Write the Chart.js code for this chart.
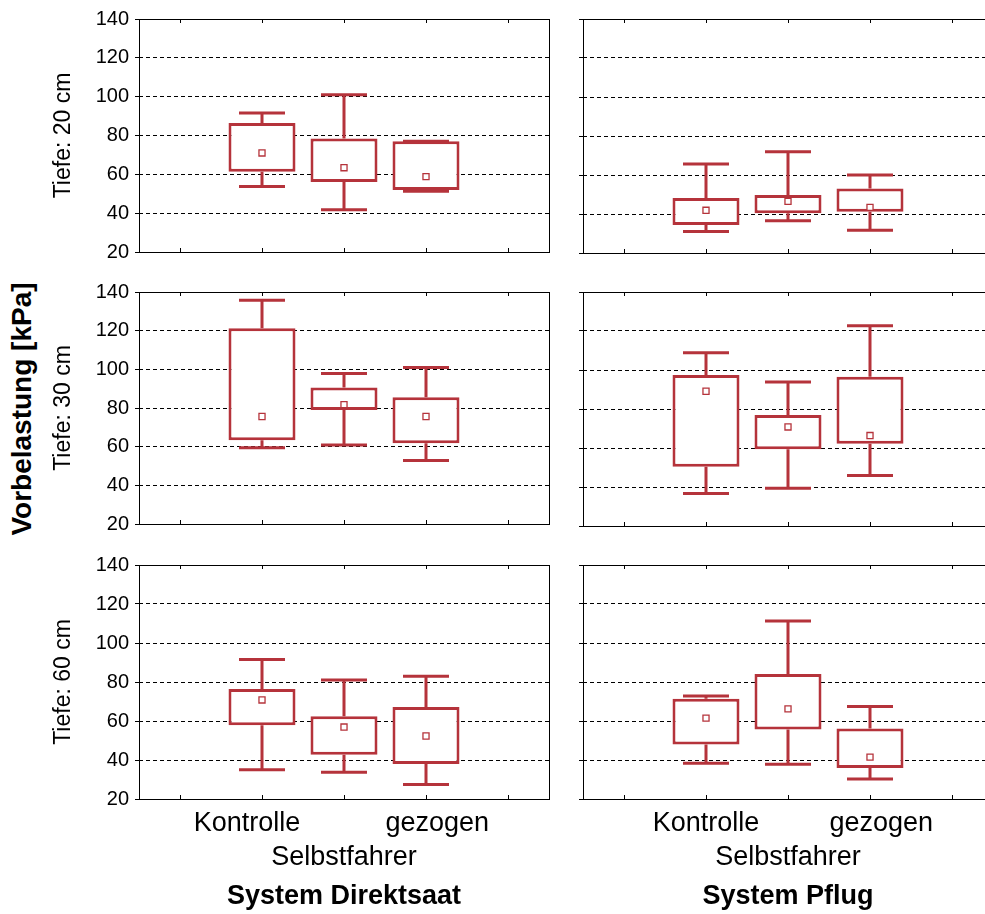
<!DOCTYPE html>
<html>
<head>
<meta charset="utf-8">
<title>Vorbelastung</title>
<script src="https://cdn.jsdelivr.net/npm/chart.js@4.4.1/dist/chart.umd.min.js"></script>
<style>
  html, body { margin: 0; padding: 0; background: #fff; overflow: hidden; }
  body { width: 985px; height: 914px; position: relative; }
  canvas { position: absolute; }
  #ylab {
    position: absolute; left: 22px; top: 409px;
    transform: translate(-50%, -50%) rotate(-90deg);
    font: bold 28px "Liberation Sans", Arial, sans-serif;
    white-space: nowrap; color: #000;
  }
</style>
</head>
<body>
<div id="ylab">Vorbelastung [kPa]</div>
<script>
// categories on the x axis (empty slots left and right like the original);
// the staggered labels are nudged a little with spaces, as in the original plot
const categoriesDirekt = ['', 'Kontrolle    ', ['', 'Selbstfahrer'], '   gezogen', ''];
const categoriesPflug = ['', 'Kontrolle', ['', 'Selbstfahrer'], '   gezogen', ''];
const depths = ['Tiefe: 20 cm', 'Tiefe: 30 cm', 'Tiefe: 60 cm'];
const systems = ['System Direktsaat', 'System Pflug'];
const yTicks = [20, 40, 60, 80, 100, 120, 140];

// rows: 20 / 30 / 60 cm, columns: Kontrolle, Selbstfahrer, gezogen
const direktMax = [[91.6, 101.0, 77.1], [135.7, 97.8, 100.9], [91.6, 81.0, 82.9]];
const direktQ3  = [[86.4, 78.5, 77.1], [121.3, 90.6, 85.5], [76.4, 62.4, 67.2]];
const direktMed = [[71.0, 63.4, 58.8], [75.6, 81.7, 75.6], [70.8, 56.9, 52.3]];
const direktQ1  = [[61.3, 56.0, 51.9], [63.3, 79.0, 61.8], [57.8, 42.7, 38.0]];
const direktMin = [[53.7, 41.7, 51.3], [59.4, 60.9, 52.9], [35.0, 33.7, 27.4]];

const pflugMax = [[65.6, 71.9, 60.0], [108.9, 93.9, 122.7], [72.8, 111.3, 67.5]];
const pflugQ3  = [[48.2, 49.7, 53.1], [97.5, 76.9, 96.5], [71.4, 84.1, 56.2]];
const pflugMed = [[41.9, 46.5, 43.4], [89.1, 70.8, 66.4], [61.5, 66.2, 41.5]];
const pflugQ1  = [[34.3, 40.4, 41.2], [50.4, 59.4, 62.2], [48.0, 55.7, 35.9]];
const pflugMin = [[31.0, 36.6, 31.7], [36.7, 39.4, 45.9], [38.3, 37.8, 30.3]];

const RED = '#b5333b';
const FONT = '"Liberation Sans", Arial, Helvetica, sans-serif';

const stats = [
  { labels: categoriesDirekt, min: direktMin, q1: direktQ1, med: direktMed, q3: direktQ3, max: direktMax },
  { labels: categoriesPflug, min: pflugMin, q1: pflugQ1, med: pflugMed, q3: pflugQ3, max: pflugMax }
];

// panel geometry (canvas box + wanted plot area)
const cols = [{ cx: 0, cw: 560, L: 139, R: 549 }, { cx: 570, cw: 430, L: 583, R: 993 }];
const rows = [{ cy: 0, ch: 270, T: 19, B: 253 }, { cy: 272, ch: 270, T: 292, B: 526 }, { cy: 545, ch: 369, T: 565, B: 799 }];

const pad = arr => [null, ...arr, null];

// whiskers + frame with inward ticks
const boxPlugin = {
  id: 'whiskers',
  beforeDatasetsDraw(chart, args, o) {
    const { ctx, scales: { x, y } } = chart;
    ctx.save();
    ctx.strokeStyle = RED;
    ctx.lineWidth = 3;
    o.min.forEach((lo, i) => {
      const px = x.getPixelForValue(i + 1);
      const yMin = y.getPixelForValue(lo);
      const yMax = y.getPixelForValue(o.max[i]);
      const yQ1 = y.getPixelForValue(o.q1[i]);
      const yQ3 = y.getPixelForValue(o.q3[i]);
      ctx.beginPath();
      ctx.moveTo(px, yMin); ctx.lineTo(px, yQ1);
      ctx.moveTo(px, yQ3); ctx.lineTo(px, yMax);
      ctx.moveTo(px - 23, yMin); ctx.lineTo(px + 23, yMin);
      ctx.moveTo(px - 23, yMax); ctx.lineTo(px + 23, yMax);
      ctx.stroke();
    });
    ctx.restore();
  },
  afterDraw(chart) {
    const { ctx, chartArea: a, scales: { x } } = chart;
    ctx.save();
    ctx.strokeStyle = '#000';
    ctx.lineWidth = 1;
    ctx.strokeRect(Math.round(a.left) + 0.5, Math.round(a.top) + 0.5,
      Math.round(a.right - a.left), Math.round(a.bottom - a.top));
    ctx.beginPath();
    x.ticks.forEach((t, i) => {
      const px = Math.round(x.getPixelForTick(i)) + 0.5;
      ctx.moveTo(px, a.top); ctx.lineTo(px, a.top + 4);
      ctx.moveTo(px, a.bottom); ctx.lineTo(px, a.bottom - 4);
    });
    ctx.stroke();
    ctx.restore();
  }
};

function makePanel(ci, ri) {
  const c = cols[ci], r = rows[ri], s = stats[ci];
  const isBottom = ri === 2;
  const cv = document.createElement('canvas');
  cv.width = c.cw; cv.height = r.ch;
  cv.style.left = c.cx + 'px';
  cv.style.top = r.cy + 'px';
  document.body.appendChild(cv);

  new Chart(cv.getContext('2d'), {
    type: 'bar',
    data: {
      labels: s.labels,
      datasets: [
        {
          type: 'line',
          data: pad(s.med[ri]),
          showLine: false,
          pointStyle: 'rect',
          pointRadius: 4.3,
          pointBackgroundColor: '#fff',
          pointBorderColor: RED,
          pointBorderWidth: 1.3,
          order: 0
        },
        {
          data: pad(s.q1[ri].map((v, i) => [v, s.q3[ri][i]])),
          backgroundColor: '#fff',
          borderColor: RED,
          borderWidth: 3,
          borderSkipped: false,
          barPercentage: 0.817,
          categoryPercentage: 1,
          order: 1
        }
      ]
    },
    options: {
      responsive: false,
      animation: false,
      devicePixelRatio: 1,
      layout: { padding: { left: 0, top: r.T - r.cy, right: c.cx + c.cw - c.R, bottom: 0 } },
      plugins: {
        legend: { display: false },
        tooltip: { enabled: false },
        whiskers: { min: s.min[ri], max: s.max[ri], q1: s.q1[ri], q3: s.q3[ri] }
      },
      scales: {
        x: {
          offset: true,
          grid: { display: false, drawTicks: false },
          border: { display: false },
          ticks: {
            display: isBottom, autoSkip: false, maxRotation: 0, minRotation: 0,
            padding: 8, color: '#000',
            font: { family: FONT, size: 27, lineHeight: 1.24 }
          },
          title: {
            display: isBottom, text: systems[ci], color: '#000',
            font: { family: FONT, size: 27, weight: 'bold', lineHeight: 1.2 },
            padding: { top: 0, bottom: 1 }
          },
          afterFit: sc => { sc.height = r.cy + r.ch - r.B; }
        },
        y: {
          min: yTicks[0],
          max: yTicks[yTicks.length - 1],
          afterBuildTicks: sc => { sc.ticks = yTicks.map(v => ({ value: v })); },
          grid: {
            color: ctx => (ctx.tick && (ctx.tick.value === 20 || ctx.tick.value === 140)) ? 'rgba(0,0,0,0)' : '#000',
            lineWidth: 1,
            drawTicks: true,
            tickLength: 4,
            tickColor: '#000',
            tickBorderDash: []
          },
          border: { display: false, dash: [4, 3] },
          ticks: { display: ci === 0, padding: 6, color: '#000', font: { family: FONT, size: 20 } },
          title: {
            display: ci === 0, text: depths[ri], color: '#000',
            font: { family: FONT, size: 23, lineHeight: 1.2 },
            padding: { top: 50, bottom: 0 }
          },
          afterFit: sc => { sc.width = c.L - c.cx; }
        }
      }
    },
    plugins: [boxPlugin]
  });
}

for (let ri = 0; ri < 3; ri++) {
  for (let ci = 0; ci < 2; ci++) makePanel(ci, ri);
}
</script>
</body>
</html>
